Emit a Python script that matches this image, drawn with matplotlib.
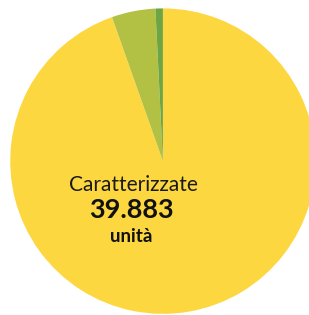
import matplotlib
matplotlib.use("Agg")
import matplotlib.pyplot as plt

# slice data (units)
labels = ["Caratterizzate", "Altro", "Non caratterizzate"]
values = [39883, 1950, 330]
colors = ["#FDD740", "#B2C144", "#6DA544"]

main_label = "Caratterizzate"
main_value = "39.883"
main_unit = "unità"

fig = plt.figure(figsize=(3.09, 3.15), dpi=100)
ax = fig.add_axes([0, 0, 1, 1])
ax.pie(values, colors=colors, startangle=90, counterclock=False,
       radius=1, wedgeprops=dict(linewidth=0))
ax.set_aspect("auto")
ax.set_xlim(-1.067, 0.957)
ax.set_ylim(-1.0075, 1.055)
ax.axis("off")

# centre label, placed on baselines
ax.text(-0.196, -0.194, main_label, ha="center", va="baseline",
        fontsize=15, family="Lato", color="#1a1a1a")
ax.text(-0.209, -0.3745, main_value, ha="center", va="baseline",
        fontsize=19.5, family="Lato", fontweight="bold", color="#111111")
ax.text(-0.209, -0.531, main_unit, ha="center", va="baseline",
        fontsize=13.5, family="Lato", fontweight="bold", color="#111111")

fig.savefig("out.png", dpi=100)
